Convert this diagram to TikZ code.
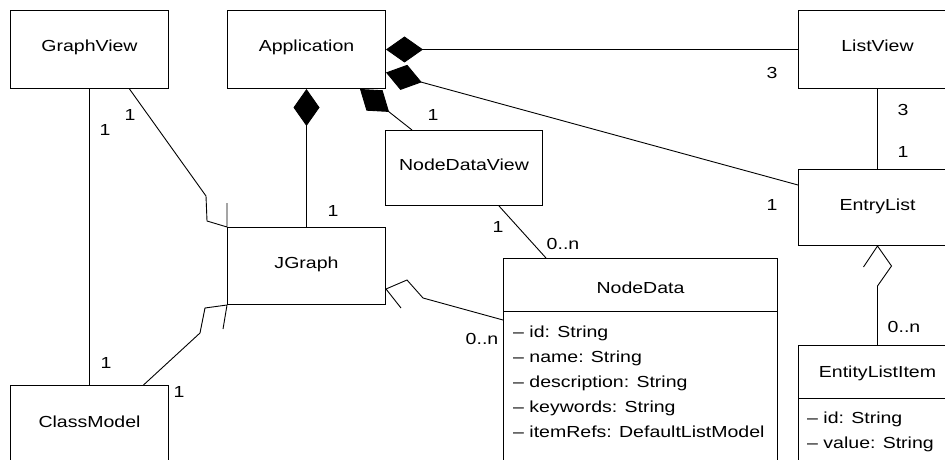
\documentclass[tikz,border=0pt]{standalone}
\usepackage{fontspec}
\setmainfont{Liberation Sans}[FakeStretch=1.22]
\usetikzlibrary{arrows.meta}

\begin{document}
\begin{tikzpicture}[
    x=1pt, y=-1pt,
    font=\fontsize{16}{20}\selectfont,
    cls/.style={
        draw=black, line width=1pt, anchor=north west, minimum width=158pt, minimum height=78pt,
        text height=11pt, text depth=6pt, inner sep=0pt
    },
    ttl/.style={anchor=base, inner sep=0pt},
    attr/.style={anchor=base west, inner sep=0pt},
    mult/.style={inner sep=0pt},
    assoc/.style={line width=0.9pt, black},
    comp/.style={
        {Diamond[length=37pt, width=26pt]}-, line width=0.9pt, black
    }
]

\useasboundingbox (0,0) rectangle (945,460);
\clip (0,0) rectangle (945,460);

\node[cls] (graphview) at (10,10) {GraphView};

\node[cls] (app) at (227,10) {Application};

\node[cls] (listview) at (798,10) {ListView};

\node[cls, minimum width=157pt, minimum height=75pt] (ndview) at (385,130) {NodeDataView};

\node[cls, minimum height=76pt] (entrylist) at (798,169) {EntryList};

\node[cls, minimum height=77pt] (jgraph) at (227,227) {JGraph};

\node[cls] (classmodel) at (10,385) {ClassModel};

\node[cls, minimum width=274pt, minimum height=230pt] (nodedata) at (503,258) {};
\node[ttl] (nodedatattl) at ([yshift=-35pt]nodedata.north) {NodeData};
\draw[line width=1pt] ([yshift=-53pt]nodedata.north west) -- ([yshift=-53pt]nodedata.north east);
\foreach \a [count=\i from 0] in {id: String, name: String, description: String, keywords: String, itemRefs: DefaultListModel}
    \node[attr] (nodedata-\i) at ([xshift=10pt, yshift=-79pt-\i*25pt]nodedata.north west) {-- \a};

\node[cls, minimum height=140pt] (entityitem) at (798,345) {};
\node[ttl] (entityitemttl) at ([yshift=-32pt]entityitem.north) {EntityListItem};
\draw[line width=1pt] ([yshift=-53pt]entityitem.north west) -- ([yshift=-53pt]entityitem.north east);
\foreach \a [count=\i from 0] in {id: String, value: String}
    \node[attr] (entityitem-\i) at ([xshift=9pt, yshift=-78pt-\i*25pt]entityitem.north west) {-- \a};

\draw[assoc] (graphview.south) -- (classmodel.north);

\draw[assoc] ([xshift=40pt]graphview.south) -- (206,196) -- (207,221) -- (jgraph.north west) -- ++(0,-24);

\draw[comp] (app.south) -- (jgraph.north);

\draw[comp] ([xshift=-26pt]app.south east) -- ([xshift=27pt]ndview.north west);

\draw[comp] (app.east) -- (listview.west);

\draw[comp] ([yshift=-23pt]app.east) -- ([yshift=-16pt]entrylist.north west);

\draw[assoc] (listview.south) -- (entrylist.north);

\draw[assoc] ([xshift=35pt]ndview.south) -- ([xshift=43pt]nodedata.north west);

\draw[assoc] ([yshift=-62pt]nodedata.north west) -- (423,298) -- (407,280) -- ([yshift=16pt]jgraph.south east) -- ++(15,19);

\draw[assoc] ([xshift=54pt]classmodel.north) -- (200,333) -- (205,308) -- (jgraph.south west) -- ++(-4,24);

\draw[assoc] (entityitem.north) -- ++(0,-59) -- ++(14,-20) -- (entrylist.south) -- ++(-14,21);

\node[mult] (gvcm1) at (105,130) {1};
\node[mult] (gvjg1) at (130,115) {1};
\node[mult] (appjg1) at (333,211) {1};
\node[mult] (appndv1) at (433,115) {1};
\node[mult] (applv3) at (772,73) {3};
\node[mult] (appel1) at (772,205) {1};
\node[mult] (lvel3) at (903,110) {3};
\node[mult] (lvel1) at (903,152) {1};
\node[mult] (ndvnd1) at (498,227) {1};
\node[mult] (ndvnd0) at (563,244) {0..n};
\node[mult] (jgnd0) at (482,339) {0..n};
\node[mult] (cmgv1) at (106,363) {1};
\node[mult] (cmjg1) at (179,392) {1};
\node[mult] (elei0) at (904,327) {0..n};

\end{tikzpicture}
\end{document}
